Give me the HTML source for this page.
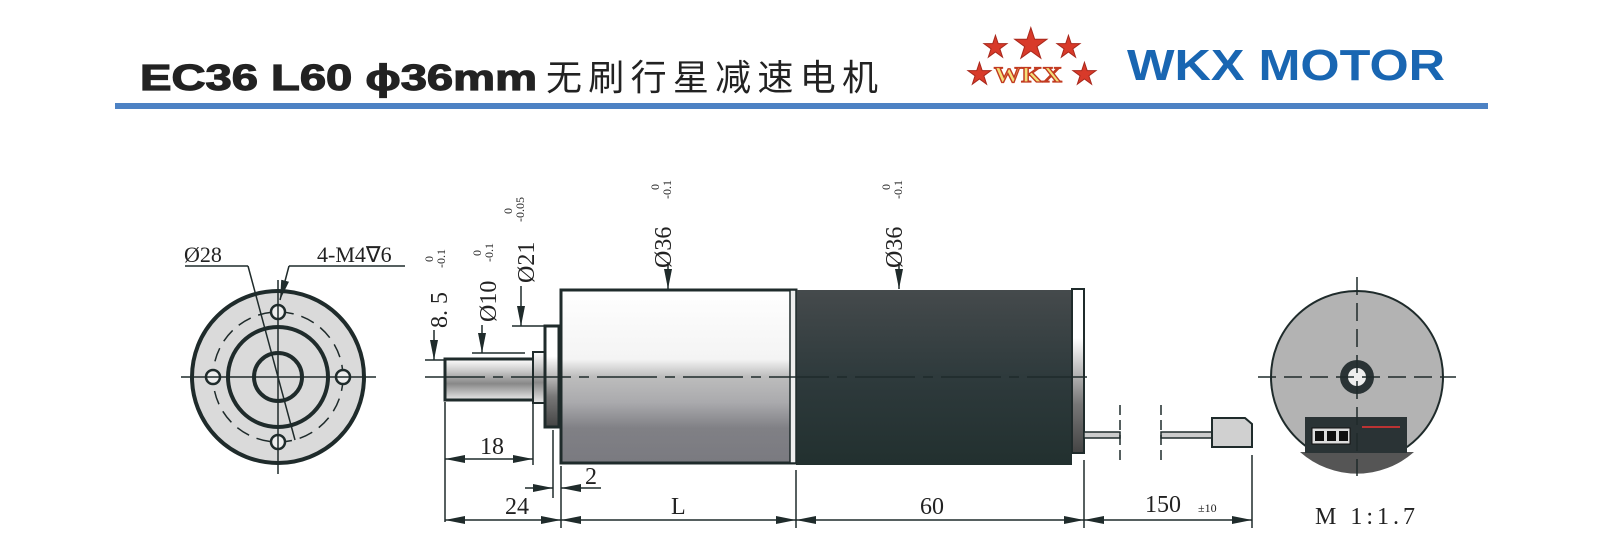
<!DOCTYPE html>
<html><head><meta charset="utf-8"><style>
html,body{margin:0;padding:0;background:#fff;}
svg{display:block;}
</style></head><body>
<svg width="1600" height="559" viewBox="0 0 1600 559" xmlns="http://www.w3.org/2000/svg">
<defs>
<linearGradient id="silver" x1="0" y1="0" x2="0" y2="1">
<stop offset="0" stop-color="#ffffff"/><stop offset="0.4" stop-color="#f4f4f4"/>
<stop offset="0.5" stop-color="#bdbdbd"/><stop offset="0.65" stop-color="#aaaaad"/><stop offset="0.8" stop-color="#808085"/><stop offset="1" stop-color="#7a7a80"/>
</linearGradient>
<linearGradient id="dark" x1="0" y1="0" x2="0" y2="1">
<stop offset="0" stop-color="#454a4c"/><stop offset="0.5" stop-color="#2e3a3c"/><stop offset="1" stop-color="#22302f"/>
</linearGradient>
<linearGradient id="cap" x1="0" y1="0" x2="0" y2="1">
<stop offset="0" stop-color="#fff"/><stop offset="0.3" stop-color="#fff"/><stop offset="0.7" stop-color="#777"/><stop offset="1" stop-color="#444"/>
</linearGradient>
<linearGradient id="shaft" x1="0" y1="0" x2="0" y2="1">
<stop offset="0" stop-color="#ffffff"/><stop offset="0.3" stop-color="#c8c8c8"/><stop offset="0.6" stop-color="#888"/><stop offset="1" stop-color="#e8e8e8"/>
</linearGradient>
<marker id="ar" viewBox="0 0 20 8" refX="20" refY="4" markerWidth="20" markerHeight="8" markerUnits="userSpaceOnUse" orient="auto-start-reverse">
<path d="M0,0 L20,4 L0,8 z" fill="#1f2b2b"/></marker>
</defs>

<!-- header -->
<text x="140" y="90" font-family="Liberation Sans, sans-serif" font-weight="bold" font-size="36" fill="#222" stroke="#222" stroke-width="1.2" textLength="397" lengthAdjust="spacingAndGlyphs">EC36 L60 ϕ36mm</text>
<text x="546" y="90" font-family="Noto Sans CJK SC, sans-serif" font-size="36" fill="#222" textLength="332" lengthAdjust="spacing">无刷行星减速电机</text>
<rect x="115" y="103" width="1373" height="6" fill="#4d82c4"/>
<g fill="#d83a2a" stroke="#a8281c" stroke-width="1" font-family="DejaVu Sans, sans-serif">
<text x="982" y="57" font-size="30">★</text><text x="1012" y="58" font-size="42">★</text><text x="1055" y="57" font-size="30">★</text>
<text x="966" y="84" font-size="30">★</text><text x="1071" y="84" font-size="30">★</text>
</g>
<text x="994" y="82" font-family="Liberation Serif, serif" font-weight="bold" font-size="22" fill="#f3e07a" stroke="#c23a20" stroke-width="1.2" textLength="68" lengthAdjust="spacingAndGlyphs">WKX</text>
<text x="1127" y="80" font-family="Liberation Sans, sans-serif" font-weight="bold" font-size="44" fill="#1966b2" textLength="318" lengthAdjust="spacingAndGlyphs">WKX MOTOR</text>

<g font-family="Liberation Serif, serif" fill="#222" stroke="none">
<!-- left end view -->
<circle cx="278" cy="377" r="86" fill="#dadada" stroke="#1f2b2b" stroke-width="4"/>
<circle cx="278" cy="377" r="65" fill="none" stroke="#1f2b2b" stroke-width="1.5" stroke-dasharray="14,8"/>
<circle cx="278" cy="377" r="50" fill="#dadada" stroke="#1f2b2b" stroke-width="4"/>
<circle cx="278" cy="377" r="24" fill="#dadada" stroke="#1f2b2b" stroke-width="4"/>
<g fill="#eee" stroke="#1f2b2b" stroke-width="2.5">
<circle cx="213" cy="377" r="7"/><circle cx="343" cy="377" r="7"/><circle cx="278" cy="312" r="7"/><circle cx="278" cy="442" r="7"/></g>
<g stroke="#1f2b2b" stroke-width="1.5">
<line x1="181" y1="377" x2="376" y2="377"/><line x1="278" y1="280" x2="278" y2="474"/>
<line x1="185" y1="266" x2="248" y2="266"/><line x1="248" y1="266" x2="295" y2="440"/>
<line x1="289" y1="266" x2="405" y2="266"/><line x1="289" y1="266" x2="280" y2="300" marker-end="url(#ar)"/>
</g>
<text x="184" y="262" font-size="22">Ø28</text>
<text x="317" y="262" font-size="22">4-M4∇6</text>

<!-- motor side -->
<rect x="445" y="359" width="90" height="41" fill="url(#shaft)" stroke="#1f2b2b" stroke-width="3"/>
<rect x="533" y="352" width="21" height="51" fill="url(#shaft)" stroke="#1f2b2b" stroke-width="2"/>
<rect x="545" y="326" width="14" height="101" fill="url(#cap)" stroke="#1f2b2b" stroke-width="3"/>
<rect x="561" y="290" width="235" height="173" fill="url(#silver)" stroke="#1f2b2b" stroke-width="3"/>
<rect x="796" y="290" width="276" height="175" fill="url(#dark)"/>
<rect x="790" y="290" width="6" height="173" fill="#eee" stroke="#1f2b2b" stroke-width="1.5"/>
<rect x="1072" y="289" width="12" height="164" fill="url(#cap)" stroke="#1f2b2b" stroke-width="2"/>
<line x1="425" y1="377" x2="1095" y2="377" stroke="#1f2b2b" stroke-width="1.5" stroke-dasharray="60,8,10,8"/>
<!-- cable -->
<rect x="1084" y="432" width="36" height="6" fill="#ccc" stroke="#1f2b2b" stroke-width="1.5"/>
<rect x="1161" y="432" width="52" height="6" fill="#ccc" stroke="#1f2b2b" stroke-width="1.5"/>
<g stroke="#1f2b2b" stroke-width="1.5" stroke-dasharray="10,5"><line x1="1120" y1="405" x2="1120" y2="465"/><line x1="1161" y1="405" x2="1161" y2="465"/></g>
<path d="M1212,418 H1245 L1252,424 V447 H1212 Z" fill="#d0d0d0" stroke="#1f2b2b" stroke-width="2"/>

<!-- dims -->
<g stroke="#1f2b2b" stroke-width="1.5" fill="none">
<line x1="445" y1="402" x2="445" y2="522"/><line x1="533" y1="368" x2="533" y2="465"/>
<line x1="553" y1="430" x2="553" y2="498"/><line x1="561" y1="466" x2="561" y2="528"/>
<line x1="796" y1="470" x2="796" y2="528"/><line x1="1084" y1="460" x2="1084" y2="528"/><line x1="1252" y1="455" x2="1252" y2="528"/>
<line x1="445" y1="459" x2="533" y2="459" marker-start="url(#ar)" marker-end="url(#ar)"/>
<line x1="445" y1="520" x2="561" y2="520" marker-start="url(#ar)" marker-end="url(#ar)"/>
<line x1="561" y1="520" x2="796" y2="520" marker-start="url(#ar)" marker-end="url(#ar)"/>
<line x1="796" y1="520" x2="1084" y2="520" marker-start="url(#ar)" marker-end="url(#ar)"/>
<line x1="1084" y1="520" x2="1252" y2="520" marker-start="url(#ar)" marker-end="url(#ar)"/>
<line x1="525" y1="488" x2="553" y2="488" marker-end="url(#ar)"/>
<line x1="601" y1="488" x2="561" y2="488" marker-end="url(#ar)"/>
<line x1="434" y1="330" x2="434" y2="360" marker-end="url(#ar)"/><line x1="425" y1="360" x2="445" y2="360"/>
<line x1="482" y1="325" x2="482" y2="353" marker-end="url(#ar)"/><line x1="472" y1="353" x2="525" y2="353"/>
<line x1="521" y1="286" x2="521" y2="326" marker-end="url(#ar)"/><line x1="512" y1="326" x2="545" y2="326"/>
<line x1="668" y1="262" x2="668" y2="289" marker-end="url(#ar)"/>
<line x1="899" y1="262" x2="899" y2="289" marker-end="url(#ar)"/>
</g>
<text x="480" y="454" font-size="24">18</text>
<text x="505" y="514" font-size="24">24</text>
<text x="585" y="484" font-size="24">2</text>
<text x="671" y="514" font-size="24">L</text>
<text x="920" y="514" font-size="24">60</text>
<text x="1145" y="512" font-size="24">150</text><text x="1198" y="512" font-size="12">±10</text>
<text x="1315" y="524" font-size="24" letter-spacing="4">M 1:1.7</text>

<g font-size="24">
<text transform="translate(447,328) rotate(-90)">8. 5</text>
<text transform="translate(496,322) rotate(-90)">Ø10</text>
<text transform="translate(534,283) rotate(-90)">Ø21</text>
<text transform="translate(671,268) rotate(-90)">Ø36</text>
<text transform="translate(902,268) rotate(-90)">Ø36</text>
</g>
<g font-size="12">
<text transform="translate(433,262) rotate(-90)">0</text><text transform="translate(445,268) rotate(-90)">-0.1</text>
<text transform="translate(481,256) rotate(-90)">0</text><text transform="translate(493,262) rotate(-90)">-0.1</text>
<text transform="translate(512,214) rotate(-90)">0</text><text transform="translate(524,222) rotate(-90)">-0.05</text>
<text transform="translate(659,190) rotate(-90)">0</text><text transform="translate(671,199) rotate(-90)">-0.1</text>
<text transform="translate(890,190) rotate(-90)">0</text><text transform="translate(902,199) rotate(-90)">-0.1</text>
</g>

<!-- right end view -->
<circle cx="1357" cy="377" r="86" fill="#b3b3b3" stroke="#1f2b2b" stroke-width="2"/>
<path d="M1300,452 A86,86 0 0 0 1414,452 Z" fill="#555"/>
<rect x="1305" y="417" width="102" height="36" fill="#2a3335"/>
<rect x="1312" y="428" width="38" height="16" fill="#ddd" stroke="#111"/>
<rect x="1315" y="431" width="9" height="10" fill="#111"/><rect x="1327" y="431" width="9" height="10" fill="#111"/><rect x="1339" y="431" width="9" height="10" fill="#111"/>
<line x1="1362" y1="427" x2="1400" y2="427" stroke="#b33" stroke-width="2"/>
<circle cx="1357" cy="377" r="17" fill="#2a3335"/><circle cx="1357" cy="377" r="9" fill="#eee"/>
<g stroke="#1f2b2b" stroke-width="1.5" stroke-dasharray="18,8">
<line x1="1258" y1="377" x2="1456" y2="377"/><line x1="1357" y1="277" x2="1357" y2="476"/></g>
</g>
</svg>
</body></html>
